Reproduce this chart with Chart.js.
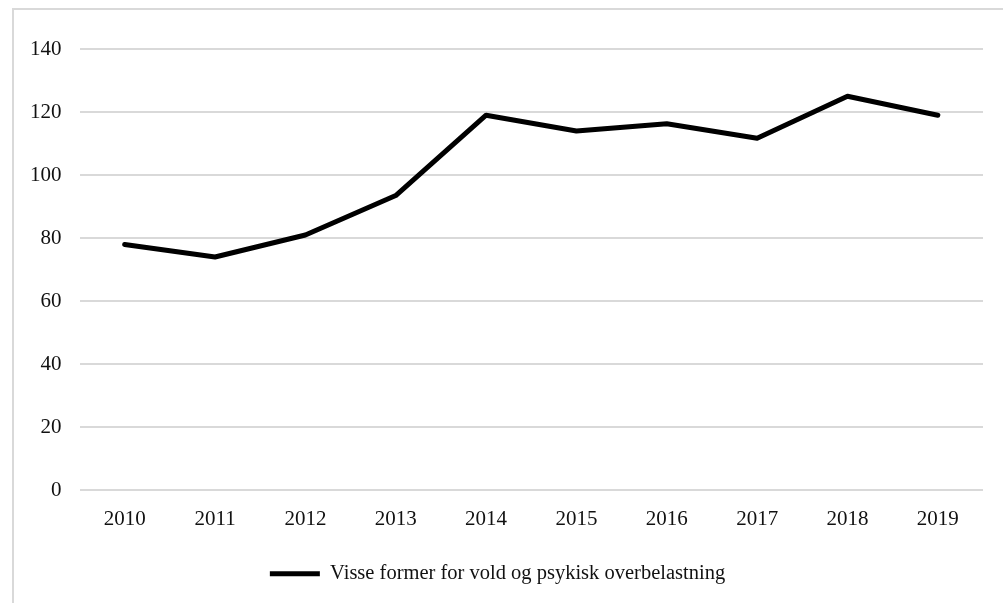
<!DOCTYPE html>
<html>
<head>
<meta charset="utf-8">
<script src="https://cdn.jsdelivr.net/npm/chart.js@4/dist/chart.umd.min.js"></script>
<style>
  html, body { margin: 0; padding: 0; background: #fff; }
  #ramme { position: absolute; left: 12px; top: 8px; width: 1000px; height: 600px;
           border-left: 2px solid #d9d9d9; border-top: 2px solid #d9d9d9; }
  #boks { position: absolute; left: 0; top: 0; width: 1003px; height: 603px; }
</style>
</head>
<body>
<div id="ramme"></div>
<div id="boks"><canvas id="linje"></canvas></div>
<script>
// Visse former for vold og psykisk overbelastning, 2010-2019

const aar = ['2010', '2011', '2012', '2013', '2014', '2015', '2016', '2017', '2018', '2019'];
const verdier = [78, 74, 81, 93.5, 119, 114, 116.3, 111.7, 125, 119];
const serieNavn = 'Visse former for vold og psykisk overbelastning';

const skrift = { family: '"Liberation Serif", "Times New Roman", serif', size: 21 };

const linjeGraf = new Chart(document.getElementById('linje'), {
  type: 'line',
  data: {
    labels: aar,
    datasets: [{
      label: serieNavn,
      data: verdier,
      borderColor: '#000',
      backgroundColor: '#000',
      borderWidth: 5,
      borderCapStyle: 'round',
      borderJoinStyle: 'round',
      pointRadius: 0,
      pointStyle: 'line',
      tension: 0
    }]
  },
  options: {
    responsive: true,
    maintainAspectRatio: false,
    animation: false,
    layout: { padding: { left: 12, right: 20, top: 49, bottom: 9 } },
    scales: {
      x: {
        offset: true,
        grid: { display: false },
        border: { display: false },
        ticks: { color: '#111', font: skrift, padding: 9 }
      },
      y: {
        min: 0,
        max: 140,
        grid: { color: '#d9d9d9', lineWidth: 2, drawTicks: false },
        border: { display: false },
        ticks: { stepSize: 20, color: '#111', font: skrift, padding: 18 }
      }
    },
    plugins: {
      legend: {
        position: 'bottom',
        labels: {
          usePointStyle: true,
          pointStyleWidth: 50,
          color: '#111',
          font: { family: skrift.family, size: 20.5 },
          padding: 22
        }
      },
      tooltip: { enabled: false }
    }
  }
});
</script>
</body>
</html>
